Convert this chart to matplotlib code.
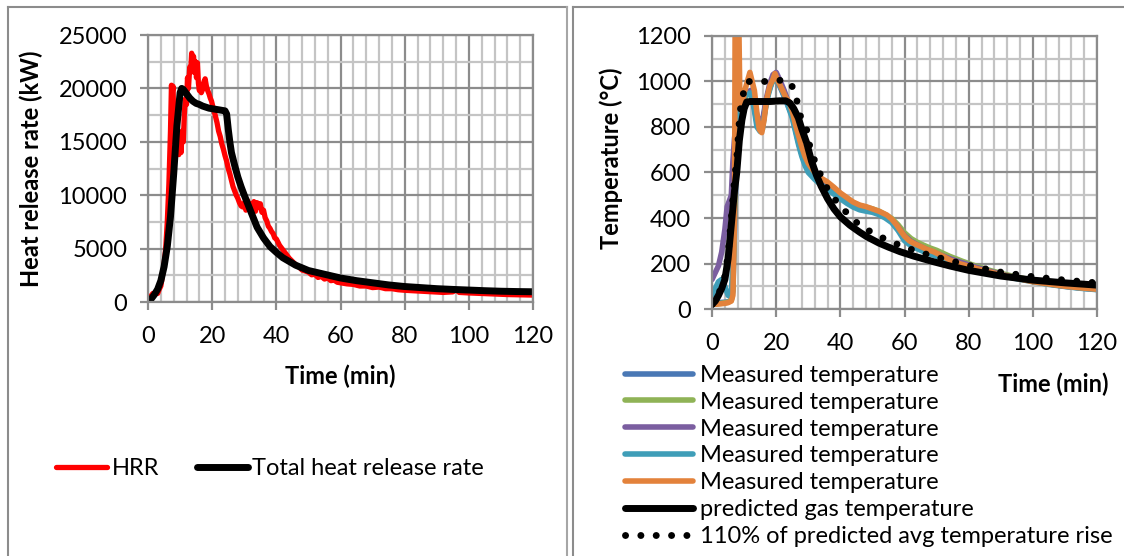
import matplotlib.pyplot as plt
from matplotlib.ticker import MultipleLocator
from matplotlib.lines import Line2D

plt.rcParams['font.family'] = ['Lato', 'DejaVu Sans']

# --- left panel: heat release rate (kW) vs time (min)
hrr_t = [0, 0.5, 1, 1.5, 2, 2.5, 3, 3.5, 4, 4.5, 5, 5.5, 6, 6.5, 7, 7.3, 7.5, 7.8, 8, 8.3,
         8.6, 9, 9.3, 9.6, 10, 10.3, 10.6, 11, 11.3, 11.6, 12, 12.3, 12.6, 13, 13.3, 13.6, 13.9,
         14.2, 14.5, 14.8, 15.1, 15.4, 15.7, 16, 16.3, 16.6, 17, 17.4, 17.8, 18.2, 18.6, 19,
         19.4, 19.8, 20.2, 20.6, 21, 21.5, 22, 22.5, 23, 23.5, 24, 24.5, 25, 25.5, 26, 26.5,
         27, 27.5, 28, 28.5, 29, 29.5, 30, 30.5, 31, 31.5, 32, 32.5, 33, 33.5, 34, 34.5, 35,
         35.5, 36, 36.5, 37, 37.5, 38, 38.5, 39, 39.5, 40, 41, 42, 43, 44, 45, 46, 47, 48, 49,
         50, 51, 52, 53, 54, 55, 56, 57, 58, 59, 60, 62, 64, 66, 68, 70, 72, 74, 76, 78, 80,
         83, 86, 89, 92, 95, 96, 97, 100, 104, 108, 112, 116, 120]
hrr_v = [0, 300, 600, 800, 700, 900, 800, 1200, 1500, 2500, 3500, 5000, 7500, 11000, 16000,
         20300, 19500, 20200, 17000, 15000, 16500, 14000, 15500, 13800, 15200, 14000, 16000,
         15000, 17500, 19000, 18500, 21000, 20000, 22000, 21500, 23300, 22800, 23000, 21500,
         22500, 21000, 22400, 20500, 19800, 20300, 19600, 19900, 20600, 20900, 20200, 19800,
         19500, 19100, 18800, 18300, 17900, 17400, 16800, 16000, 15500, 14800, 14300, 13700,
         13200, 12500, 12000, 11400, 10800, 10400, 10000, 9700, 9300, 9000, 8900, 9300, 8600,
         9500, 8800, 9200, 8700, 9400, 8500, 9300, 8900, 9200, 8400, 8600, 7900, 7600, 7100,
         6900, 6600, 6400, 6000, 5900, 5300, 4900, 4500, 4100, 3800, 3500, 3300, 3000, 2900,
         2800, 2550, 2600, 2300, 2400, 2150, 2250, 2000, 2050, 1850, 1800, 1700, 1650, 1500,
         1500, 1350, 1400, 1250, 1250, 1150, 1100, 1050, 1000, 950, 900, 950, 1150, 900, 850,
         800, 750, 700, 680, 650]

total_t = [0, 1, 2, 3, 4, 5, 6, 7, 8, 9, 10, 10.5, 11, 12, 13, 14, 15, 16, 17, 18, 19, 20,
           21, 22, 23, 24, 24.5, 25, 25.5, 26, 27, 28, 29, 30, 32, 34, 36, 38, 40, 42, 44, 46,
           48, 50, 55, 60, 65, 70, 75, 80, 85, 90, 95, 100, 105, 110, 115, 120]
total_v = [0, 300, 700, 1200, 2000, 3300, 5200, 8000, 12000, 16500, 19600, 20000, 19900,
           19500, 19100, 18800, 18600, 18500, 18350, 18250, 18150, 18100, 18050, 18000, 17950,
           17900, 17600, 16200, 15000, 14000, 12800, 11700, 10800, 10000, 8500, 7000, 6000,
           5200, 4650, 4150, 3800, 3450, 3200, 2950, 2600, 2250, 2000, 1800, 1600, 1450, 1350,
           1250, 1180, 1120, 1060, 1010, 980, 960]

# --- right panel: temperatures (°C) vs time (min)
blue_t = [0, 2, 4, 5, 6, 6.5, 7, 7.5, 8, 9, 10, 11, 12, 13, 14, 15, 15.7, 16.5, 17.5, 18.5,
          19.5, 20.5, 22, 23.5, 25, 26, 27, 28, 29, 30, 32, 34, 36, 38, 40, 42, 44, 46, 48, 50,
          52, 54, 56, 58, 60, 62, 64, 66, 68, 70, 74, 78, 82, 86, 90, 95, 100, 105, 110, 115, 120]
blue_v = [25, 28, 30, 32, 40, 80, 350, 600, 800, 900, 930, 950, 960, 900, 820, 790, 800, 880,
          950, 990, 1020, 1000, 950, 900, 850, 790, 730, 680, 640, 610, 580, 555, 535, 515, 495,
          475, 458, 445, 438, 430, 420, 405, 385, 350, 310, 285, 270, 258, 245, 235, 212, 195,
          178, 164, 150, 135, 122, 110, 100, 92, 86]

green_t = [0, 3, 5, 6, 6.5, 7, 7.5, 8, 9, 10, 11, 12, 13, 14, 15, 16, 17, 18, 19, 20, 21, 22.5,
           24, 25.5, 27, 28.5, 30, 32, 34, 36, 38, 40, 42, 44, 46, 48, 50, 52, 54, 56, 58, 60,
           62, 64, 66, 68, 70, 72, 74, 78, 82, 86, 90, 95, 100, 105, 110, 115, 120]
green_v = [22, 25, 30, 38, 90, 420, 650, 820, 880, 920, 945, 955, 905, 830, 800, 830, 920, 975,
           1005, 1015, 990, 950, 900, 840, 740, 670, 630, 595, 570, 548, 528, 505, 485, 468, 455,
           447, 440, 430, 415, 398, 370, 335, 310, 293, 280, 268, 258, 245, 232, 210, 190, 172,
           157, 140, 126, 113, 103, 95, 89]

purple_t = [0, 1, 2, 3, 4, 4.7, 5.5, 6, 6.5, 7, 8, 9, 10, 11, 12, 13, 14, 15, 16, 17, 18, 19,
            20, 21, 22.5, 24, 25.5, 27, 28.5, 30, 32, 34, 36, 38, 40, 42, 44, 46, 48, 50, 52, 54,
            56, 58, 60, 62, 64, 66, 68, 70, 74, 78, 82, 86, 90, 95, 100, 105, 110, 115, 120]
purple_v = [130, 160, 190, 250, 350, 450, 480, 500, 650, 750, 880, 920, 940, 950, 960, 920,
            850, 810, 850, 930, 990, 1030, 1040, 1010, 960, 900, 830, 740, 670, 625, 590, 565,
            540, 520, 500, 480, 462, 448, 440, 432, 422, 408, 390, 360, 322, 298, 282, 268, 255,
            244, 222, 203, 185, 168, 153, 137, 123, 111, 101, 93, 87]

teal_t = [0, 1, 2, 3, 4, 5, 6, 6.5, 7, 7.5, 8, 9, 10, 11, 12, 13, 14, 15, 15.7, 16.5, 17.5,
          18.5, 19.5, 20.5, 22, 23.5, 25, 26, 27, 28, 29, 30, 32, 34, 36, 38, 40, 42, 44, 46, 48,
          50, 52, 54, 56, 58, 60, 62, 64, 66, 68, 70, 74, 78, 82, 86, 90, 95, 100, 105, 110, 115,
          120]
teal_v = [60, 90, 120, 130, 100, 60, 60, 200, 500, 750, 870, 910, 930, 945, 950, 890, 800, 780,
          790, 870, 940, 990, 1025, 1000, 955, 900, 840, 780, 720, 670, 630, 600, 570, 545, 525,
          505, 485, 465, 448, 436, 430, 425, 415, 400, 380, 345, 300, 278, 265, 252, 242, 232,
          210, 192, 176, 162, 148, 133, 120, 108, 99, 91, 85]

orange_t = [0, 2, 4, 5, 6, 6.5, 7, 7.2, 8.3, 8.7, 9.3, 10, 11, 11.8, 12.5, 13.2, 14, 14.7, 15.5,
            16.2, 17, 18, 19, 19.6, 20.3, 21, 22, 23, 24, 25, 26, 27, 28, 29, 30, 32, 34, 35.8,
            38, 40, 42, 44, 46, 48, 50, 52, 54.5, 56, 57.5, 58.6, 60, 61.5, 62.8, 65, 67, 69, 72,
            74.2, 77, 80, 84, 88, 92, 96, 100, 105, 110, 115, 120]
orange_v = [20, 22, 25, 28, 35, 60, 400, 1300, 1300, 900, 870, 950, 1000, 1040, 1000, 960, 860,
            790, 775, 830, 920, 980, 1010, 1035, 1010, 990, 960, 930, 910, 870, 810, 760, 710,
            670, 640, 600, 575, 560, 535, 510, 490, 470, 457, 450, 440, 430, 413, 395, 370, 347,
            320, 300, 289, 275, 262, 252, 232, 215, 200, 188, 172, 158, 145, 132, 120, 110, 100,
            93, 87]

pred_t = [0, 1, 2, 3, 4, 5, 6, 7, 7.7, 8.5, 9.3, 10, 10.8, 12, 15, 18, 21, 23, 24.3, 25.5,
          26.9, 28, 29.5, 31, 32.5, 34, 36, 38, 40, 43, 46, 48.2, 52, 55, 58.6, 63, 69, 74.2, 80,
          90, 100, 110, 120]
pred_v = [20, 35, 60, 90, 130, 220, 370, 520, 600, 740, 830, 880, 910, 912, 912, 912, 915, 915,
          905, 880, 840, 790, 730, 650, 590, 540, 485, 440, 405, 368, 338, 318, 290, 272, 252,
          232, 208, 189, 170, 145, 127, 115, 105]

rise_t = [0, 1, 2, 3, 4, 5, 6, 7, 7.7, 8.7, 9.6, 10.3, 11, 15.5, 20.7, 23.5, 24.8, 26.4, 27.4,
          29.5, 30.5, 32.1, 35.2, 38.9, 42.5, 46, 50, 55, 60, 65, 70, 75, 80, 90, 100, 110, 120]
rise_v = [20, 38, 65, 100, 145, 240, 400, 570, 660, 867, 933, 992, 1000, 999, 1005, 1005, 985,
          919, 853, 787, 713, 647, 545, 470, 415, 368, 335, 300, 272, 248, 228, 210, 192, 162,
          142, 127, 115]

measured = [(blue_t, blue_v, '#4A78B5'), (green_t, green_v, '#8FB356'),
            (purple_t, purple_v, '#7B5EA0'), (teal_t, teal_v, '#3F9EB8'),
            (orange_t, orange_v, '#E3823B')]

FS = 17
fig = plt.figure(figsize=(11.24, 5.56), dpi=100)
ax1 = fig.add_axes([0.1317, 0.4568, 0.3425, 0.4802])
ax2 = fig.add_axes([0.6335, 0.4442, 0.3425, 0.4911])


def style_axes(ax, ymax, ymajor, yminor):
    ax.set_xlim(0, 120)
    ax.set_ylim(0, ymax)
    ax.xaxis.set_major_locator(MultipleLocator(20))
    ax.xaxis.set_minor_locator(MultipleLocator(4))
    ax.yaxis.set_major_locator(MultipleLocator(ymajor))
    ax.yaxis.set_minor_locator(MultipleLocator(yminor))
    ax.set_axisbelow(True)
    ax.grid(which='minor', color='#C4C4C4', lw=1.6)
    ax.grid(which='major', color='#8C8C8C', lw=1.6)
    for s in ax.spines.values():
        s.set_color('#8C8C8C')
        s.set_linewidth(1.6)
    ax.tick_params(which='major', length=6, width=1.6, color='#8C8C8C', labelsize=FS)
    ax.tick_params(axis='x', which='major', pad=11)
    ax.tick_params(axis='y', which='major', pad=9)
    ax.tick_params(which='minor', length=0)


style_axes(ax1, 25000, 5000, 2500)
ax1.plot(hrr_t, hrr_v, color='#FF0000', lw=3.8, solid_capstyle='round', label='HRR')
ax1.plot(total_t, total_v, color='black', lw=5, solid_capstyle='round',
         label='Total heat release rate')
ax1.set_xlabel('Time (min)', fontsize=FS, fontweight='bold')
ax1.set_ylabel('Heat release rate (kW)', fontsize=FS, fontweight='bold')
ax1.xaxis.set_label_coords(0.5, -0.235)
ax1.yaxis.set_label_coords(-0.272, 0.5)
ax1.legend(loc='center left', bbox_to_anchor=(0.0498, 0.1565), bbox_transform=fig.transFigure,
           ncol=2, frameon=False, fontsize=FS, handlelength=2.15, handletextpad=0.2,
           columnspacing=1.6, borderpad=0, borderaxespad=0)

style_axes(ax2, 1200, 200, 100)
for t, v, c in measured:
    ax2.plot(t, v, color=c, lw=4, solid_capstyle='round', label='Measured temperature')
ax2.plot(pred_t, pred_v, color='black', lw=5, solid_capstyle='round',
         label='predicted gas temperature')
ax2.plot(rise_t, rise_v, color='black', lw=5, linestyle=(0, (0.01, 2.2)),
         dash_capstyle='round', label='110% of predicted avg temperature rise')
ax2.set_xlabel('Time (min)', fontsize=FS, fontweight='bold')
ax2.set_ylabel('Temperature (°C)', fontsize=FS, fontweight='bold')
ax2.xaxis.set_label_coords(0.886, -0.231)
ax2.yaxis.set_label_coords(-0.232, 0.553)
ax2.legend(loc='center left', bbox_to_anchor=(0.556, 0.1799), bbox_transform=fig.transFigure,
           frameon=False, fontsize=FS, handlelength=2.9, handletextpad=0.3,
           labelspacing=0.25, borderpad=0, borderaxespad=0)

# chart-area borders of the two panels
W, H = 1124, 556
for xs, ys, c in [([8, 8], [0, 549], '#8C8C8C'), ([8, 567], [549, 549], '#8C8C8C'),
                  ([567, 567], [549, 0], '#A6A6A6'), ([573, 573], [0, 549], '#8C8C8C'),
                  ([573, 1124], [549, 549], '#8C8C8C')]:
    fig.add_artist(Line2D([x / W for x in xs], [y / H for y in ys], color=c, lw=1.5))

fig.savefig('out.png', dpi=100)
